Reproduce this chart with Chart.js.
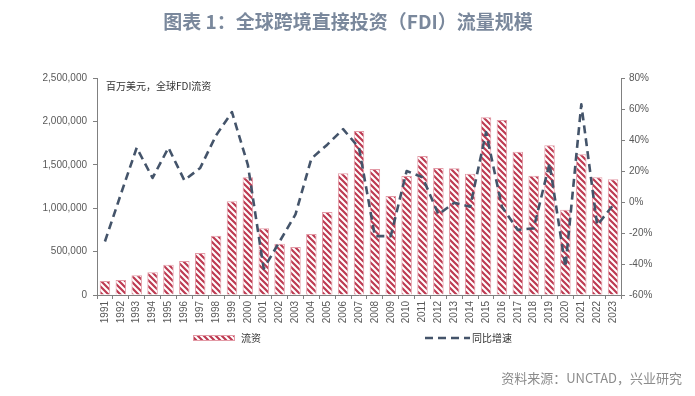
<!DOCTYPE html>
<html>
<head>
<meta charset="utf-8">
<script src="https://cdn.jsdelivr.net/npm/chart.js@4/dist/chart.umd.min.js"></script>
<style>
html,body{margin:0;padding:0;background:#fff;}
#wrap{width:695px;height:396px;position:relative;}
</style>
</head>
<body>
<div id="wrap"><canvas id="fdiChart" width="695" height="396"></canvas></div>
<script>

// DATA

const years = ["1991","1992","1993","1994","1995","1996","1997","1998","1999","2000",
"2001","2002","2003","2004","2005","2006","2007","2008","2009","2010",
"2011","2012","2013","2014","2015","2016","2017","2018","2019","2020",
"2021","2022","2023"];

// 流资, 百万美元
const flows = [161000,173000,227000,261000,349000,392000,484000,683000,1080000,1356000,
768000,591000,553000,703000,956000,1402000,1890000,1452000,1141000,1371000,
1601000,1463000,1460000,1398000,2047000,2016000,1651000,1375000,1725000,983000,
1621000,1356000,1333000];

// 同比增速, %
const growth = [-25.5,5,35,15.5,35,14,22,43,58,24,
-43,-25.5,-8,28,37,47,35,-22,-22,20,
16,-8,-0.5,-3,45,-3,-18,-17,25,-42,
63,-15,-2];

const leftTicks = [0,500000,1000000,1500000,2000000,2500000];
const rightTicks = [-60,-40,-20,0,20,40,60,80];

const titleText = "图表 1：全球跨境直接投资（FDI）流量规模";
const unitText = "百万美元，全球FDI流资";
const sourceText = "资料来源：UNCTAD，兴业研究";


// HATCH PATTERN

function makeHatch(){
const n = 6;
const c = document.createElement("canvas");
c.width = n;
c.height = n;
const g = c.getContext("2d");
g.fillStyle = "#ffffff";
g.fillRect(0,0,n,n);
g.strokeStyle = "#bd3b52";
g.lineWidth = 2.2;
g.beginPath();
g.moveTo(-1,-1); g.lineTo(n+1,n+1);
g.moveTo(-1,n-1); g.lineTo(1,n+1);
g.moveTo(n-1,-1); g.lineTo(n+1,1);
g.stroke();
return document.getElementById("fdiChart").getContext("2d").createPattern(c,"repeat");
}

const hatch = makeHatch();

const axisColor = "#808080";
const labelColor = "#595959";


// EXTRA TEXT + LEGEND

const extras = {
id:"extras",
afterDraw(chart){
const ctx = chart.ctx;
ctx.save();

ctx.fillStyle = "#7a889c";
ctx.font = "bold 19px 'Noto Sans CJK SC'";
ctx.textAlign = "center";
ctx.textBaseline = "middle";
ctx.fillText(titleText, 348, 22);

ctx.fillStyle = "#333";
ctx.font = "10px 'Noto Sans CJK SC'";
ctx.textAlign = "left";
ctx.fillText(unitText, 106, 86);

// legend
ctx.fillStyle = hatch;
ctx.fillRect(193,335,42,6);
ctx.strokeStyle = "#e39aa6";
ctx.lineWidth = 1;
ctx.strokeRect(193.5,335.5,41,5);
ctx.fillStyle = "#333";
ctx.font = "10px 'Noto Sans CJK SC'";
ctx.fillText("流资", 241, 338);

ctx.strokeStyle = "#44546a";
ctx.lineWidth = 2.5;
ctx.setLineDash([8,5]);
ctx.beginPath();
ctx.moveTo(425,338);
ctx.lineTo(470,338);
ctx.stroke();
ctx.setLineDash([]);
ctx.fillText("同比增速", 472, 338);

ctx.fillStyle = "#8c8c8c";
ctx.font = "13px 'Noto Sans CJK SC'";
ctx.textAlign = "right";
ctx.fillText(sourceText, 682, 378);

ctx.restore();
}
};


// CHART

new Chart(document.getElementById("fdiChart"),{

data:{
labels:years,
datasets:[
{
type:"line",
label:"同比增速",
data:growth,
yAxisID:"yR",
borderColor:"#44546a",
borderWidth:2.6,
borderDash:[8,5],
borderJoinStyle:"round",
pointRadius:0,
tension:0,
fill:false,
order:0
},
{
type:"bar",
label:"流资",
data:flows,
yAxisID:"yL",
backgroundColor:hatch,
borderColor:"#e39aa6",
borderWidth:1,
barPercentage:0.66,
categoryPercentage:1,
order:1
}
]
},

options:{
responsive:false,
animation:false,
layout:{padding:{top:78,left:0,right:0,bottom:0}},
plugins:{
legend:{display:false},
tooltip:{enabled:false}
},
scales:{
x:{
offset:true,
grid:{display:true,drawOnChartArea:false,offset:true,tickLength:4,color:axisColor},
border:{color:axisColor},
ticks:{
color:labelColor,
font:{family:"Liberation Sans",size:10},
minRotation:90,
maxRotation:90,
autoSkip:false,
padding:2
},
afterFit(s){ s.height = 101; }
},
yL:{
position:"left",
min:0,
max:2500000,
afterBuildTicks(s){ s.ticks = leftTicks.map(v=>({value:v})); },
grid:{display:true,drawOnChartArea:false,tickLength:4,color:axisColor},
border:{color:axisColor},
ticks:{
color:labelColor,
font:{family:"Liberation Sans",size:10},
padding:6,
callback:v=>v.toLocaleString("en-US")
},
afterFit(s){ s.width = 97; }
},
yR:{
position:"right",
min:-60,
max:80,
afterBuildTicks(s){ s.ticks = rightTicks.map(v=>({value:v})); },
grid:{display:true,drawOnChartArea:false,tickLength:4,color:axisColor},
border:{color:axisColor},
ticks:{
color:labelColor,
font:{family:"Liberation Sans",size:10},
padding:4,
callback:v=>v+"%"
},
afterFit(s){ s.width = 74; }
}
}
},

plugins:[extras]

});

</script>
</body>
</html>
